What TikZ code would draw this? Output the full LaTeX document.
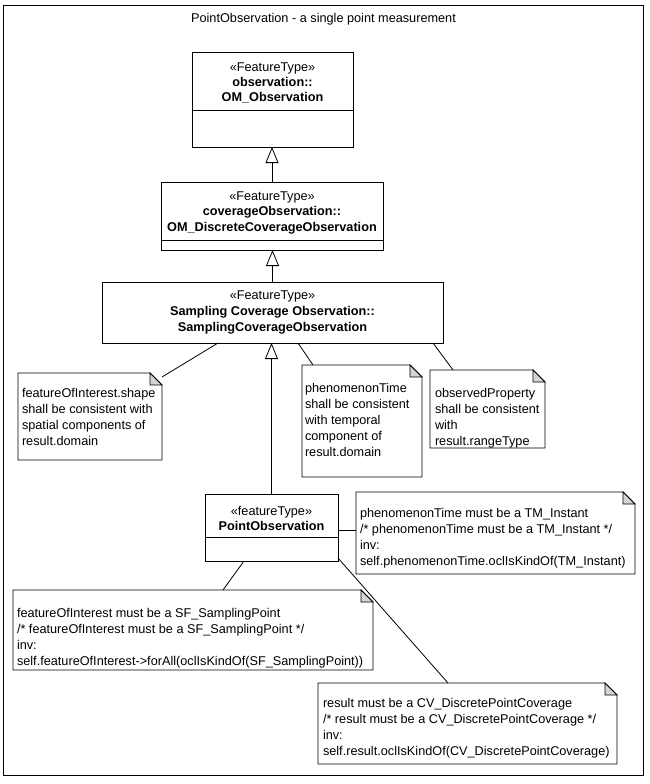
\documentclass[tikz,border=0pt]{standalone}
\usepackage{fontspec}
\setmainfont{Liberation Sans}
\usetikzlibrary{arrows.meta}
\definecolor{foldgray}{RGB}{212,212,212}
\newcommand\notefrm[1]{%
  \draw[ln, fill=white] (#1.north west) -- ([xshift=-12pt]#1.north east) -- ([yshift=-12pt]#1.north east) -- (#1.south east) -- (#1.south west) -- cycle;
  \draw[fold] ([xshift=-12pt]#1.north east) -- ([xshift=-12pt,yshift=-12pt]#1.north east) -- ([yshift=-12pt]#1.north east) -- cycle;}
\begin{document}
\begin{tikzpicture}[x=1pt,y=-1pt,
  every node/.style={inner sep=0pt, outer sep=0pt},
  ln/.style={line width=0.8pt},
  cls/.style={draw, line width=0.8pt, fill=white, anchor=north west},
  notebox/.style={anchor=north west},
  lbl/.style={font=\fontsize{12.7}{16}\selectfont, anchor=base},
  bl/.style={font=\fontsize{12.7}{16}\selectfont\bfseries, anchor=base},
  notetxt/.style={font=\fontsize{12.7}{16}\selectfont, anchor=base west},
  gen/.style={ln, -{Triangle[open, length=16pt, width=13pt, line width=0.8pt]}},
  fold/.style={ln, fill=foldgray}
]
\useasboundingbox (0,0) rectangle (650,784);
\draw[ln] (3,5) rectangle (643,775);
\node[lbl] (title) at (323.5,22.5) {PointObservation - a single point measurement};

% class boxes
\node[cls, minimum width=161pt, minimum height=95pt] (b1) at (192,52) {};
\draw[ln] (b1.west |- 0,110) -- (b1.east |- 0,110);
\node[lbl] (b1s) at (b1.north |- 0,71.5) {«FeatureType»};
\node[bl] (b1a) at (b1.north |- 0,86.5) {observation::};
\node[bl] (b1b) at (b1.north |- 0,101.5) {OM\_Observation};

\node[cls, minimum width=222pt, minimum height=68pt] (b2) at (161,182) {};
\draw[ln] (b2.west |- 0,240) -- (b2.east |- 0,240);
\node[lbl] (b2s) at (b2.north |- 0,200) {«FeatureType»};
\node[bl] (b2a) at (b2.north |- 0,215.5) {coverageObservation::};
\node[bl] (b2b) at (b2.north |- 0,231) {OM\_DiscreteCoverageObservation};

\node[cls, minimum width=341pt, minimum height=61pt] (b3) at (102,282) {};
\node[lbl] (b3s) at (b3.north |- 0,299) {«FeatureType»};
\node[bl] (b3a) at (b3.north |- 0,315) {Sampling Coverage Observation::};
\node[bl] (b3b) at (b3.north |- 0,331) {SamplingCoverageObservation};

\node[cls, minimum width=133pt, minimum height=67pt] (b4) at (205,494) {};
\draw[ln] (b4.west |- 0,537) -- (b4.east |- 0,537);
\node[lbl] (b4s) at (b4.north |- 0,515) {«featureType»};
\node[bl] (b4a) at (b4.north |- 0,530.5) {PointObservation};

% generalizations
\draw[gen] (b2.north) -- (b2.north |- b1.south);
\draw[gen] (b3.north) -- (b3.north |- b2.south);
\draw[gen] (b4.north) -- (b4.north |- b3.south);

% notes
\node[notebox, minimum width=144pt, minimum height=87pt] (nA) at (18,373) {};
\notefrm{nA}
\node[notetxt] (tA) at (22,397.3) {\begin{tabular}[t]{@{}l@{}}featureOfInterest.shape\\shall be consistent with\\spatial components of\\result.domain\end{tabular}};

\node[notebox, minimum width=120pt, minimum height=112pt] (nB) at (302,365) {};
\notefrm{nB}
\node[notetxt] (tB) at (305,392) {\begin{tabular}[t]{@{}l@{}}phenomenonTime\\shall be consistent\\with temporal\\component of\\result.domain\end{tabular}};

\node[notebox, minimum width=115pt, minimum height=78pt] (nC) at (430,370) {};
\notefrm{nC}
\node[notetxt] (tC) at (435,397) {\begin{tabular}[t]{@{}l@{}}observedProperty\\shall be consistent\\with\\result.rangeType\end{tabular}};

\node[notebox, minimum width=279pt, minimum height=82pt] (nD) at (356,492) {};
\notefrm{nD}
\node[notetxt] (tD) at (360,517) {\begin{tabular}[t]{@{}l@{}}phenomenonTime must be a TM\_Instant\\/* phenomenonTime must be a TM\_Instant */\\inv:\\self.phenomenonTime.oclIsKindOf(TM\_Instant)\end{tabular}};

\node[notebox, minimum width=360pt, minimum height=80pt] (nE) at (13,590) {};
\notefrm{nE}
\node[notetxt] (tE) at (17,617) {\begin{tabular}[t]{@{}l@{}}featureOfInterest must be a SF\_SamplingPoint\\/* featureOfInterest must be a SF\_SamplingPoint */\\inv:\\self.featureOfInterest->forAll(oclIsKindOf(SF\_SamplingPoint))\end{tabular}};

\node[notebox, minimum width=299pt, minimum height=81pt] (nF) at (318,683) {};
\notefrm{nF}
\node[notetxt] (tF) at (323,707) {\begin{tabular}[t]{@{}l@{}}result must be a CV\_DiscretePointCoverage\\/* result must be a CV\_DiscretePointCoverage */\\inv:\\self.result.oclIsKindOf(CV\_DiscretePointCoverage)\end{tabular}};

% note connectors
\draw[ln] ([xshift=116pt]b3.south west) -- ([yshift=-4pt]nA.north east);
\draw[ln] ([xshift=196pt]b3.south west) -- ([xshift=11pt]nB.north west);
\draw[ln] ([xshift=331pt]b3.south west) -- ([xshift=23pt]nC.north west);
\draw[ln] ([yshift=-2.5pt]b4.east) -- ([yshift=-2.5pt]b4.east -| nD.west);
\draw[ln] ([xshift=39pt]b4.south west) -- ([xshift=210pt]nE.north west);
\draw[ln] ([yshift=3pt]b4.south east) -- ([xshift=130pt]nF.north west);
\end{tikzpicture}
\end{document}
